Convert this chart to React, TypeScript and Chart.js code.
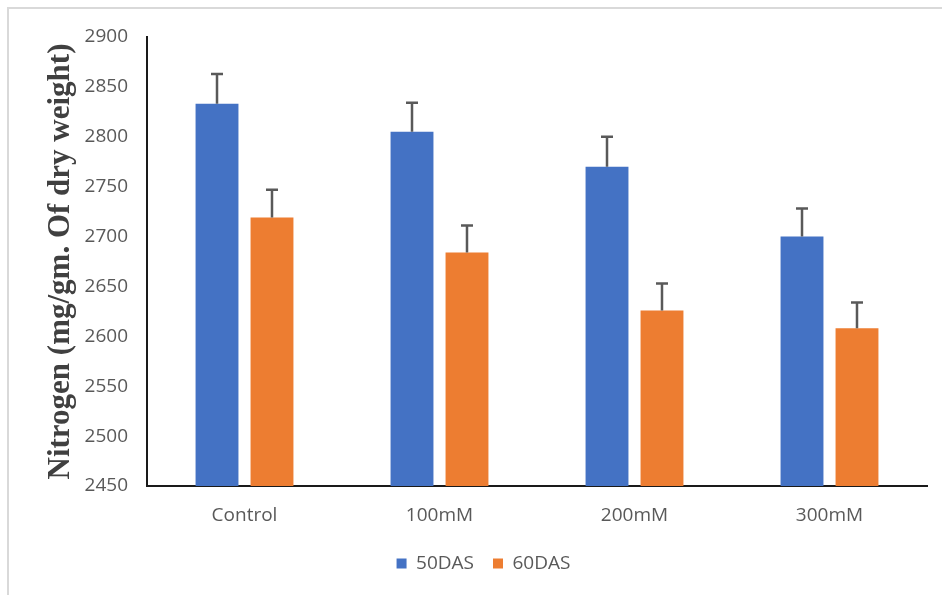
import React, { useEffect, useRef } from "react";
import { Chart, registerables } from "chart.js";

Chart.register(...registerables);

const categories = ["Control", "100mM", "200mM", "300mM"];
const series50DAS = [2833, 2805, 2770, 2700];
const series60DAS = [2719, 2684, 2626, 2608];
const err50DAS = [30, 29, 30, 28];
const err60DAS = [28, 27, 27, 26];
const yTitle = "Nitrogen (mg/gm. Of dry weight)";
const yMin = 2450;
const yMax = 2900;
const yStep = 50;

const errorBarPlugin = {
  id: "errorBars",
  afterDatasetsDraw(chart: any) {
    const ctx = chart.ctx;
    const yScale = chart.scales.y;
    chart.data.datasets.forEach((ds: any, di: number) => {
      const meta = chart.getDatasetMeta(di);
      if (meta.hidden) return;
      const errs: number[] = ds.errors || [];
      meta.data.forEach((bar: any, i: number) => {
        const v = ds.data[i];
        const e = errs[i] || 0;
        const yTop = yScale.getPixelForValue(v + e);
        const yBar = yScale.getPixelForValue(v);
        const x = bar.x;
        ctx.save();
        ctx.strokeStyle = "#595959";
        ctx.lineWidth = 2.5;
        ctx.beginPath();
        ctx.moveTo(x, yBar);
        ctx.lineTo(x, yTop);
        ctx.moveTo(x - 6, yTop);
        ctx.lineTo(x + 6, yTop);
        ctx.stroke();
        ctx.restore();
      });
    });
  },
};

export default function App() {
  const ref = useRef<HTMLCanvasElement | null>(null);
  useEffect(() => {
    if (!ref.current) return;
    const chart = new Chart(ref.current, {
      type: "bar",
      data: {
        labels: categories,
        datasets: [
          {
            label: "50DAS",
            data: series50DAS,
            errors: err50DAS,
            backgroundColor: "#4472C4",
            borderWidth: 0,
            categoryPercentage: 0.564,
            barPercentage: 0.78,
          } as any,
          {
            label: "60DAS",
            data: series60DAS,
            errors: err60DAS,
            backgroundColor: "#ED7D31",
            borderWidth: 0,
            categoryPercentage: 0.564,
            barPercentage: 0.78,
          } as any,
        ],
      },
      options: {
        animation: false,
        responsive: false,
        maintainAspectRatio: false,
        layout: { padding: { top: 37, right: 15, left: 40, bottom: 12 } },
        plugins: {
          legend: {
            position: "bottom",
            labels: {
              boxWidth: 10,
              boxHeight: 10,
              padding: 19,
              color: "#595959",
              font: { family: "'Open Sans'", size: 19 },
            },
          },
          tooltip: { enabled: false },
        },
        scales: {
          x: {
            grid: { display: false, drawTicks: false },
            border: { display: true, color: "#1a1a1a", width: 2 },
            ticks: {
              color: "#595959",
              padding: 18,
              font: { family: "'Open Sans'", size: 19 },
            },
            afterFit(scale: any) {
              scale.height = 49;
            },
          },
          y: {
            min: yMin,
            max: yMax,
            grid: { display: false, drawTicks: false },
            border: { display: true, color: "#1a1a1a", width: 2 },
            ticks: {
              stepSize: yStep,
              color: "#595959",
              padding: 19,
              font: { family: "'Open Sans'", size: 19 },
              callback: (v: any) => String(v),
            },
            title: {
              display: true,
              text: yTitle,
              color: "#404040",
              font: { family: "'Liberation Serif'", size: 31, weight: "bold" },
              padding: { top: 2, bottom: 0 },
            },
            afterFit(scale: any) {
              scale.width = 107;
            },
          },
        },
      },
      plugins: [errorBarPlugin],
    });
    return () => chart.destroy();
  }, []);
  return (
    <div style={{ position: "fixed", left: 0, top: 0, width: 942, height: 595, background: "#fff" }}>
      <div
        style={{
          position: "absolute",
          left: 7,
          top: 7,
          right: 0,
          bottom: 0,
          borderLeft: "2px solid #d9d9d9",
          borderTop: "2px solid #d9d9d9",
        }}
      />
      <canvas ref={ref} width={942} height={595} style={{ position: "absolute", left: 0, top: 0 }} />
    </div>
  );
}
